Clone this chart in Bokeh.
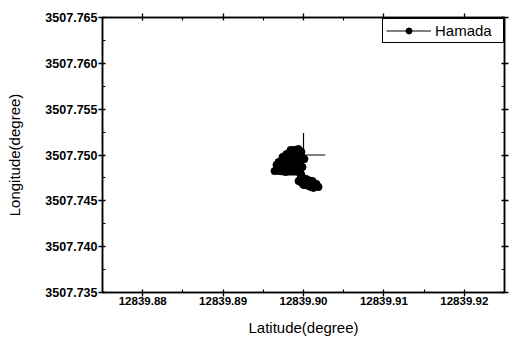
from bokeh.plotting import figure
from bokeh.models import (LinearAxis, FixedTicker, PrintfTickFormatter, Range1d,
                          Legend, LegendItem)
from bokeh.embed import file_html
from bokeh.resources import INLINE

# Track points (latitude, longitude)
lat = [12839.89838, 12839.89938, 12839.89975, 12839.89913, 12839.89789, 12839.89739,
       12839.89838, 12839.89963, 12839.90012, 12839.89913, 12839.89764, 12839.89689,
       12839.89664, 12839.89789, 12839.89938, 12839.89988, 12839.89838, 12839.89689,
       12839.89639, 12839.89776, 12839.89938, 12839.89975, 12839.89963, 12839.90037,
       12839.90112, 12839.90162, 12839.90187, 12839.90087, 12839.90000, 12839.89938,
       12839.90050, 12839.90124]
lon = [3507.75055, 3507.75065, 3507.75033, 3507.75022, 3507.75011, 3507.74978,
       3507.74978, 3507.74989, 3507.74956, 3507.74935, 3507.74935, 3507.74924,
       3507.74891, 3507.74891, 3507.74902, 3507.74869, 3507.74858, 3507.74858,
       3507.74825, 3507.74815, 3507.74815, 3507.74782, 3507.74749, 3507.74738,
       3507.74716, 3507.74684, 3507.74651, 3507.74651, 3507.74673, 3507.74716,
       3507.74695, 3507.74640]

# Reference cross (centre and half-extents)
ref_lat = 12839.900
ref_lon = 3507.750
ref_dlat = 0.0027
ref_dlon = 0.0024

x_ticks = [12839.88, 12839.89, 12839.90, 12839.91, 12839.92]
x_minor = [12839.875, 12839.885, 12839.895, 12839.905, 12839.915, 12839.925]
y_ticks = [3507.735, 3507.740, 3507.745, 3507.750, 3507.755, 3507.760, 3507.765]
y_minor = [3507.7375, 3507.7425, 3507.7475, 3507.7525, 3507.7575, 3507.7625]

p = figure(width=510, height=340, output_backend="svg", toolbar_location=None,
           x_range=Range1d(12839.875, 12839.925), y_range=Range1d(3507.735, 3507.765),
           min_border_left=102, min_border_top=17, min_border_right=6, min_border_bottom=48)
p.grid.visible = False
p.outline_line_color = "black"
p.outline_line_width = 1.5

p.line(lat, lon, line_color="black", line_width=7, line_join="round")
p.scatter(lat, lon, size=7, color="black")
p.segment(x0=[ref_lat, ref_lat - ref_dlat], y0=[ref_lon - ref_dlon, ref_lon],
          x1=[ref_lat, ref_lat + ref_dlat], y1=[ref_lon + ref_dlon, ref_lon],
          line_color="black", line_width=1.2)

# legend glyphs (thin line with a dot), placed on the first track point
leg_ln = p.line(lat[:1], lon[:1], line_color="black", line_width=1)
leg_sc = p.scatter(lat[:1], lon[:1], size=4, color="black")

font = "Liberation Sans"

def style(ax, size):
    ax.axis_line_color = "black"
    ax.axis_line_width = 1.5
    ax.major_tick_line_color = "black"
    ax.minor_tick_line_color = "black"
    ax.major_tick_line_width = 1.3
    ax.minor_tick_line_width = 1.1
    ax.major_tick_in = 3
    ax.major_tick_out = 4
    ax.minor_tick_in = 3
    ax.minor_tick_out = 0
    ax.major_label_text_font = font
    ax.major_label_text_font_style = "bold"
    ax.major_label_text_font_size = size
    ax.major_label_text_color = "black"
    ax.axis_label_text_font = font
    ax.axis_label_text_font_style = "normal"
    ax.axis_label_text_font_size = "15px"
    ax.axis_label_text_color = "black"

xt = FixedTicker(ticks=x_ticks, minor_ticks=x_minor)
yt = FixedTicker(ticks=y_ticks, minor_ticks=y_minor)

p.xaxis.ticker = xt
p.yaxis.ticker = yt
p.xaxis.formatter = PrintfTickFormatter(format="%.2f")
p.yaxis.formatter = PrintfTickFormatter(format="%.3f")
p.xaxis.axis_label = "Latitude(degree)"
p.yaxis.axis_label = "Longitude(degree)"
style(p.xaxis[0], "11.5px")
style(p.yaxis[0], "12.5px")
p.xaxis.major_label_standoff = 0
p.yaxis.major_label_standoff = 1
p.xaxis.axis_label_standoff = 11
p.yaxis.axis_label_standoff = 19

top = LinearAxis(ticker=xt, major_label_overrides={t: "" for t in x_ticks})
right = LinearAxis(ticker=yt, major_label_overrides={t: "" for t in y_ticks})
style(top, "11px")
style(right, "11px")
top.major_label_standoff = 0
right.major_label_standoff = 0
p.add_layout(top, "above")
p.add_layout(right, "right")

legend = Legend(items=[LegendItem(label="Hamada", renderers=[leg_ln, leg_sc])],
                location=(280, 249))
legend.label_text_font = font
legend.label_text_font_size = "15px"
legend.label_text_color = "black"
legend.label_height = 15
legend.glyph_height = 15
legend.glyph_width = 45
legend.label_width = 65
legend.border_line_color = "black"
legend.border_line_width = 1.6
legend.border_line_alpha = 1.0
legend.margin = 0
legend.padding = 3
legend.spacing = 0
legend.label_standoff = 4
p.add_layout(legend)

open("out.html", "w").write(file_html(p, INLINE))
